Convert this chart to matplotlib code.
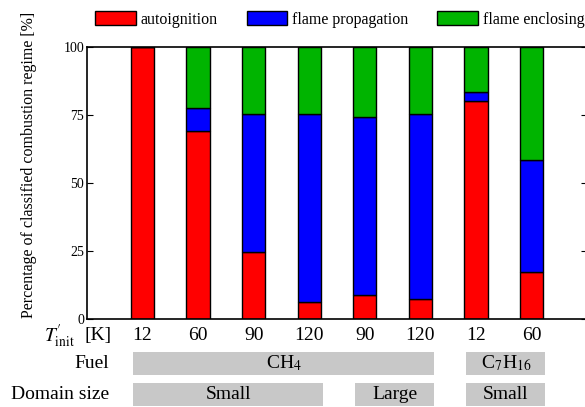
import numpy as np
import matplotlib; matplotlib.use("Agg")
import matplotlib.pyplot as plt
from matplotlib.patches import Rectangle
import matplotlib.transforms as mtransforms

plt.rcParams['font.family'] = ['Liberation Serif', 'DejaVu Serif']
plt.rcParams['mathtext.fontset'] = 'stix'

# data
t_init = ["12", "60", "90", "120", "90", "120", "12", "60"]
autoignition = [100, 69.2, 24.5, 6.4, 8.8, 7.2, 80.1, 17.2]
flame_propagation = [0, 8.3, 50.9, 69.0, 65.6, 68.1, 3.4, 41.3]
flame_enclosing = [0, 22.5, 24.6, 24.6, 25.6, 24.7, 16.5, 41.5]
fuel_groups = [("CH$_4$", 0, 5), (r"C$_7$H$_{16}$", 6, 7)]
domain_groups = [("Small", 0, 3), ("Large", 4, 5), ("Small", 6, 7)]

colors = ['#ff0000', '#0000ff', '#00b400']
labels = ['autoignition', 'flame propagation', 'flame enclosing']

fig = plt.figure(figsize=(5.85, 4.07), dpi=100)
ax = fig.add_axes([87/585, 1-319/407, 500/585, 272/407])

x = np.arange(len(t_init))
a = np.array(autoignition); b = np.array(flame_propagation); c = np.array(flame_enclosing)
w = 0.42
h1 = ax.bar(x, a, w, color=colors[0], edgecolor='black', linewidth=1)
h2 = ax.bar(x, b, w, bottom=a, color=colors[1], edgecolor='black', linewidth=1)
h3 = ax.bar(x, c, w, bottom=a+b, color=colors[2], edgecolor='black', linewidth=1)

ax.set_xlim(-1, 8)
ax.set_ylim(0, 100)
ax.set_yticks([0, 25, 50, 75, 100])
ax.tick_params(axis='y', direction='in', length=4, labelsize=10, right=True, pad=2)
ax.set_xticks([])
for s in ax.spines.values():
    s.set_linewidth(1.2)
ax.set_ylabel("Percentage of classified combustion regime [%]", fontsize=11.5)
ax.yaxis.set_label_coords(-0.1, 0.566)

# rows under the axis
tr = mtransforms.blended_transform_factory(ax.transData, ax.transAxes)
for xi, lab in zip(x, t_init):
    ax.text(xi, -0.059, lab, transform=tr, ha='center', va='center', fontsize=14)
ax.text(-0.024, -0.062, r"$T^{\prime}_{\mathrm{init}}$", transform=ax.transAxes,
        ha='right', va='center', fontsize=14)
ax.text(0.05, -0.059, "[K]", transform=ax.transAxes, ha='right', va='center', fontsize=14)

bh = 0.085
def row(groups, yc, name):
    ax.text(0.044, yc, name, transform=ax.transAxes, ha='right', va='center', fontsize=14)
    for lab, i0, i1 in groups:
        x0, x1 = i0 - 0.17, i1 + 0.25
        ax.add_patch(Rectangle((x0, yc - bh/2), x1 - x0, bh, transform=tr,
                               facecolor='#c8c8c8', edgecolor='none', clip_on=False))
        ax.text((x0 + x1)/2, yc, lab, transform=tr, ha='center', va='center', fontsize=14)

row(fuel_groups, -0.164, "Fuel")
row(domain_groups, -0.276, "Domain size")

fig.legend([h1, h2, h3], labels, loc='upper left', bbox_to_anchor=(84/585, 1.0),
           ncol=3, frameon=False, fontsize=11.5, handlelength=2.55, handleheight=1.0,
           handletextpad=0.3, columnspacing=1.8, borderaxespad=0.3)

fig.savefig("out.png", dpi=100)
